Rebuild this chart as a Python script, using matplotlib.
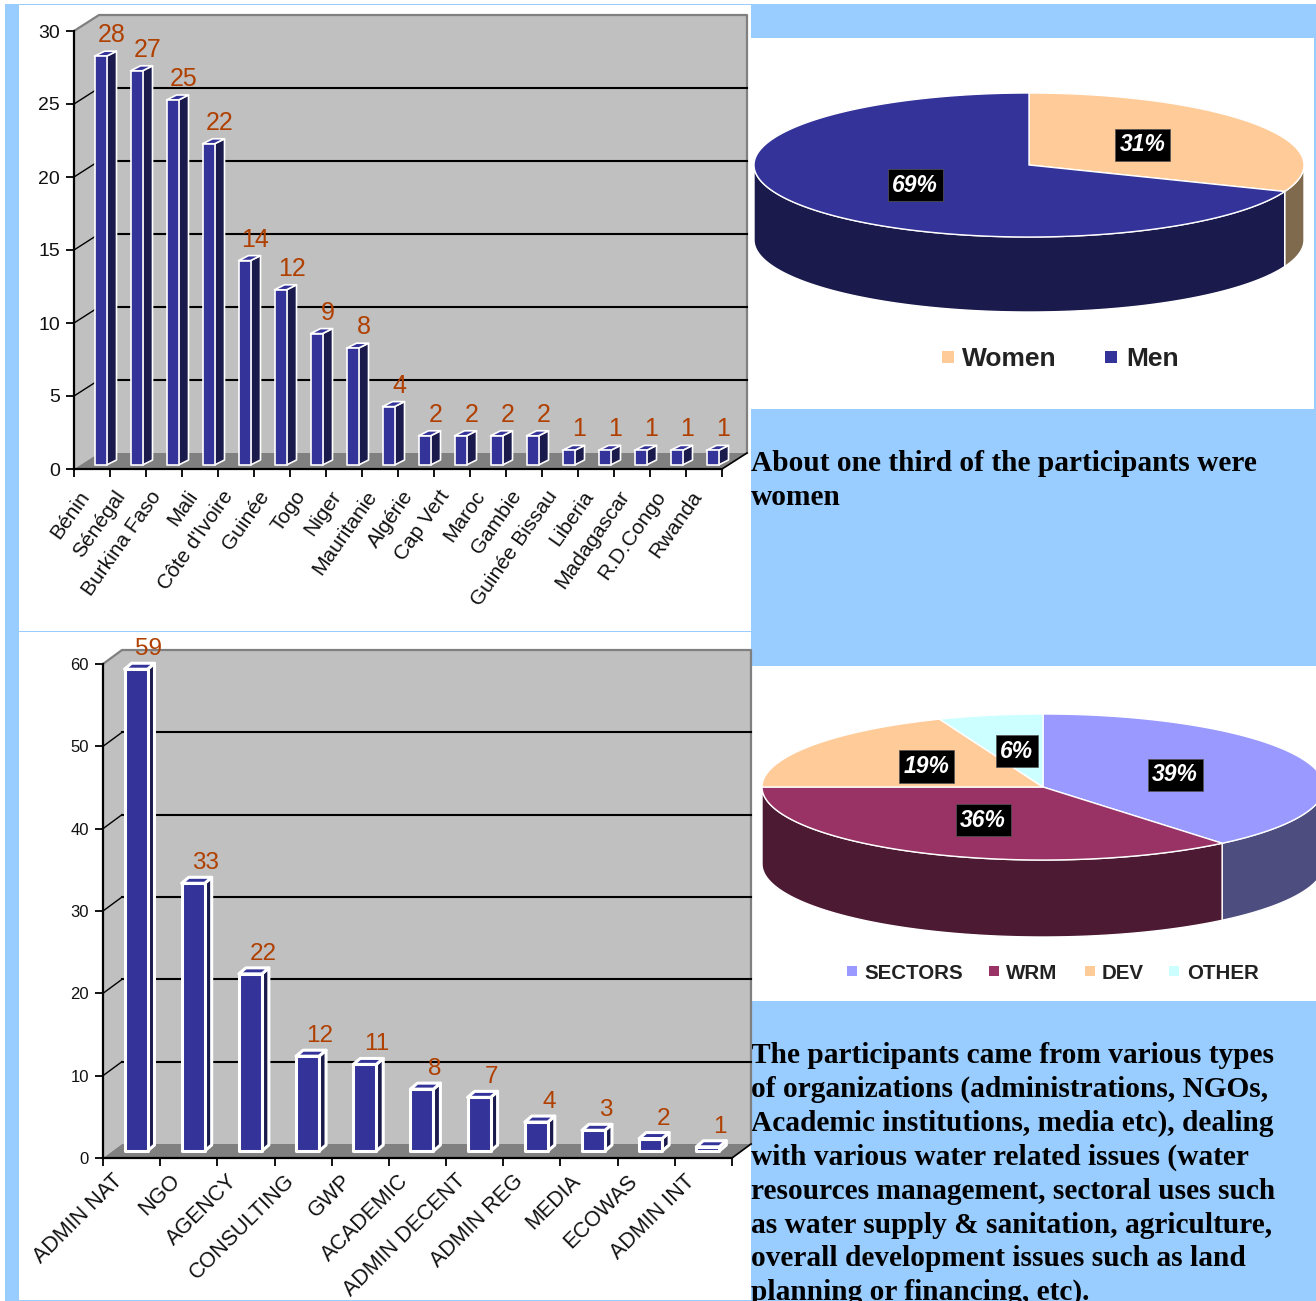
import numpy as np
import matplotlib
matplotlib.use("Agg")
import matplotlib.pyplot as plt
from matplotlib.patches import Polygon, Rectangle

W, H = 1316, 1301

# --- data ---
countries = ["Bénin", "Sénégal", "Burkina Faso", "Mali", "Côte d'Ivoire", "Guinée", "Togo", "Niger",
             "Mauritanie", "Algérie", "Cap Vert", "Maroc", "Gambie", "Guinée Bissau", "Liberia",
             "Madagascar", "R.D.Congo", "Rwanda"]
country_counts = [28, 27, 25, 22, 14, 12, 9, 8, 4, 2, 2, 2, 2, 1, 1, 1, 1, 1]
country_ticks = [0, 5, 10, 15, 20, 25, 30]

org_types = ["ADMIN NAT", "NGO", "AGENCY", "CONSULTING", "GWP", "ACADEMIC", "ADMIN DECENT", "ADMIN REG",
             "MEDIA", "ECOWAS", "ADMIN INT"]
org_counts = [59, 33, 22, 12, 11, 8, 7, 4, 3, 2, 1]
org_ticks = [0, 10, 20, 30, 40, 50, 60]

gender_names = ["Women", "Men"]
gender_share = [31, 69]
gender_colors = ["#ffcc99", "#333399"]
gender_sides = ["#806a4d", "#1a1a4d"]

field_names = ["SECTORS", "WRM", "DEV", "OTHER"]
field_share = [39, 36, 19, 6]
field_colors = ["#9999ff", "#993366", "#ffcc99", "#ccffff"]
field_sides = ["#4d4d80", "#4d1a33", "#806a4d", "#668080"]

text_top = ["About one third of the participants were", "women"]
text_bottom = ["The participants came from various types",
               "of organizations (administrations, NGOs,",
               "Academic institutions, media etc), dealing",
               "with various water related issues (water",
               "resources management, sectoral uses such",
               "as water supply & sanitation, agriculture,",
               "overall development issues such as land",
               "planning or financing, etc)."]

BLUE = "#99ccff"
SANS = "Liberation Sans"
SERIF = "Liberation Serif"
LABEL = "#b04000"


def px_axes(fig, left, top, right, bottom):
    return fig.add_axes([left / W, 1 - bottom / H, (right - left) / W, (bottom - top) / H])


def bar_chart(fig, box, names, values, ticks, wall, bar, style):
    left, top, right, bottom = box
    ax = px_axes(fig, left, top, right, bottom)
    n = len(names)
    ax.set_xlim(0, n)
    ax.set_ylim(0, ticks[-1])
    ax.patch.set_alpha(0)
    sx = (right - left) / n
    sy = (bottom - top) / ticks[-1]
    wx, wy = wall

    def pt(c, v, ox=0, oy=0):
        # category/value position plus a pixel offset (oy is upwards)
        return (c + ox / sx, v + oy / sy)

    def poly(points, zorder, **kw):
        ax.add_patch(Polygon(points, closed=True, clip_on=False, zorder=zorder, **kw))

    ymax = ticks[-1]
    # back wall, side wall, floor
    poly([pt(0, 0, wx, wy), pt(n, 0, wx, wy), pt(n, ymax, wx, wy), pt(0, ymax, wx, wy)], 1,
         facecolor="#c0c0c0", edgecolor="none")
    poly([pt(0, 0), pt(0, 0, wx, wy), pt(0, ymax, wx, wy), pt(0, ymax)], 1,
         facecolor="#c0c0c0", edgecolor="none")
    poly([pt(0, 0), pt(0, 0, wx, wy), pt(n, 0, wx, wy), pt(n, 0)], 1.5,
         facecolor="#808080", edgecolor="none")
    ax.plot(*zip(pt(0, ymax), pt(0, ymax, wx, wy), pt(n, ymax, wx, wy), pt(n, 0, wx, wy)),
            color="#808080", lw=1.6, clip_on=False, zorder=2)
    ax.plot(*zip(pt(n, 0), pt(n, 0, wx, wy)), color="black", lw=1.2, clip_on=False, zorder=2)

    for t in ticks[1:-1]:
        ax.plot(*zip(pt(0, t), pt(0, t, wx, wy)), color="black", lw=1, clip_on=False, zorder=2)
        ax.plot(*zip(pt(0, t, wx, wy), pt(n, t, wx, wy)), color="black", lw=1.5, clip_on=False, zorder=2)

    # bars, offsets in pixels
    x0, width, dx, dy, base, drop, lw = bar
    for i, v in enumerate(values):
        vt = v - drop / sy
        xl = x0
        xr = x0 + width
        front = [pt(i, 0, xl, base), pt(i, 0, xr, base), pt(i, vt, xr, base), pt(i, vt, xl, base)]
        side = [pt(i, 0, xr, base), pt(i, 0, xr + dx, base + dy), pt(i, vt, xr + dx, base + dy),
                pt(i, vt, xr, base)]
        roof = [pt(i, vt, xl, base), pt(i, vt, xr, base), pt(i, vt, xr + dx, base + dy),
                pt(i, vt, xl + dx, base + dy)]
        poly(side, 3, facecolor="#1a1a4d", edgecolor="white", lw=lw, joinstyle="round")
        poly(roof, 3, facecolor="#333399", edgecolor="white", lw=lw, joinstyle="round")
        poly(front, 3, facecolor="#333399", edgecolor="white", lw=lw, joinstyle="round")
        lx, ly = pt(i, vt, xl + style["label_dx"], base + dy + style["label_dy"])
        ax.text(lx, ly, str(v), color=LABEL, fontsize=style["label_size"], family=SANS,
                ha="center", va="baseline", zorder=5, clip_on=False)

    for s in ("top", "right"):
        ax.spines[s].set_visible(False)
    for s in ("left", "bottom"):
        ax.spines[s].set_linewidth(1.6)
        ax.spines[s].set_zorder(4)
    ax.set_yticks(ticks)
    ax.tick_params(axis="y", labelsize=style["tick_size"], length=style["tick_len"], width=1.3,
                   pad=style["ypad"], labelfontfamily=SANS, labelcolor="#111111")
    ax.set_xticks(np.arange(n + 1))
    ax.set_xticklabels([])
    ax.tick_params(axis="x", which="major", length=style["tick_len"], width=1.3)
    ax.set_xticks(np.arange(n) + style["name_shift"], names, minor=True,
                  rotation=style["rot"], ha="right", rotation_mode="anchor",
                  fontsize=style["name_size"], family=SANS, color="#111111")
    ax.tick_params(axis="x", which="minor", length=0, pad=style["xpad"])
    return ax


def pie_chart(fig, cx, cy, rx, ry, depth, shares, colors, sides):
    ax = px_axes(fig, cx - rx, cy - ry, cx + rx, cy + ry)
    ax.set_xlim(-1, 1)
    ax.set_ylim(-1, 1)
    ax.axis("off")
    d = depth / ry
    edges = np.cumsum([0] + list(shares)) * 3.6
    for a, b, face, side in zip(edges[:-1], edges[1:], colors, sides):
        # visible wall runs over the front half only
        lo, hi = max(a, 90), min(b, 270)
        if hi > lo:
            t = np.radians(np.linspace(lo, hi, 120))
            x, y = np.sin(t), np.cos(t)
            pts = np.r_[np.c_[x, y], np.c_[x[::-1], y[::-1] - d]]
            ax.add_patch(Polygon(pts, closed=True, facecolor=side, edgecolor="white", lw=1,
                                 clip_on=False, zorder=2))
    for a, b, face in zip(edges[:-1], edges[1:], colors):
        t = np.radians(np.linspace(a, b, 180))
        pts = np.r_[[[0, 0]], np.c_[np.sin(t), np.cos(t)]]
        ax.add_patch(Polygon(pts, closed=True, facecolor=face, edgecolor="white", lw=1,
                             clip_on=False, zorder=3))
    for a, b, share in zip(edges[:-1], edges[1:], shares):
        m = np.radians((a + b) / 2)
        ax.text(0.5 * np.sin(m), 0.5 * np.cos(m), f"{share}%", color="white", fontsize=16.5,
                family=SANS, weight="bold", style="italic", ha="center", va="center", zorder=5,
                bbox=dict(facecolor="black", edgecolor="#555555", lw=0.5, boxstyle="square,pad=0.2"))
    return ax


fig = plt.figure(figsize=(W / 100, H / 100), dpi=100, facecolor="white")

# page layout: light blue cells behind white chart cells
bg = fig.add_axes([0, 0, 1, 1])
bg.set_xlim(0, W)
bg.set_ylim(H, 0)
bg.axis("off")
for x, y, w, h, c in [(5, 4, 1311, 1297, BLUE),
                      (19, 5, 732, 626, "white"),
                      (19, 632, 732, 668, "white"),
                      (751, 38, 563, 371, "white"),
                      (751, 666, 565, 335, "white")]:
    bg.add_patch(Rectangle((x, y), w, h, facecolor=c, edgecolor="none"))

for y, line in zip([471, 505], text_top):
    bg.text(751, y, line, family=SERIF, weight="bold", fontsize=21.2, color="black", va="baseline")
for y, line in zip([1063, 1097, 1131, 1165, 1199, 1233, 1266, 1300], text_bottom):
    bg.text(751, y, line, family=SERIF, weight="bold", fontsize=21.2, color="black", va="baseline")

bar_chart(fig, (74, 31, 722, 469), countries, country_counts, country_ticks,
          wall=(25, 16), bar=(20.5, 12, 10, 5, 4, 0, 1.2),
          style=dict(label_dx=17, label_dy=9, label_size=18, tick_size=14, tick_len=6, ypad=4,
                     name_shift=0.1, rot=55, name_size=15, xpad=13))
bar_chart(fig, (103, 664, 732, 1158), org_types, org_counts, org_ticks,
          wall=(19, 14), bar=(21.5, 23, 7, 6, 7, 4, 2.2),
          style=dict(label_dx=24, label_dy=8, label_size=17.5, tick_size=12, tick_len=6, ypad=4,
                     name_shift=0.16, rot=45, name_size=15.5, xpad=9))

pie_chart(fig, 1029, 165, 275, 72, 75, gender_share, gender_colors, gender_sides)
pie_chart(fig, 1043, 787, 281, 73, 77, field_share, field_colors, field_sides)

# legends
top = fig.add_axes([0, 0, 1, 1])
top.set_xlim(0, W)
top.set_ylim(H, 0)
top.axis("off")
for x, tx, name, c in zip([942, 1105], [962, 1126], gender_names, gender_colors):
    top.add_patch(Rectangle((x, 351), 12, 12, facecolor=c, edgecolor="none"))
    top.text(tx, 366, name, family=SANS, weight="bold", fontsize=19, color="#222222", va="baseline")
for x, tx, name, c in zip([847, 989, 1085, 1169], [864, 1006, 1102, 1187], field_names, field_colors):
    top.add_patch(Rectangle((x, 966), 10, 10, facecolor=c, edgecolor="none"))
    top.text(tx, 979, name, family=SANS, weight="bold", fontsize=14.8, color="#222222", va="baseline")

fig.savefig("out.png", dpi=100)
